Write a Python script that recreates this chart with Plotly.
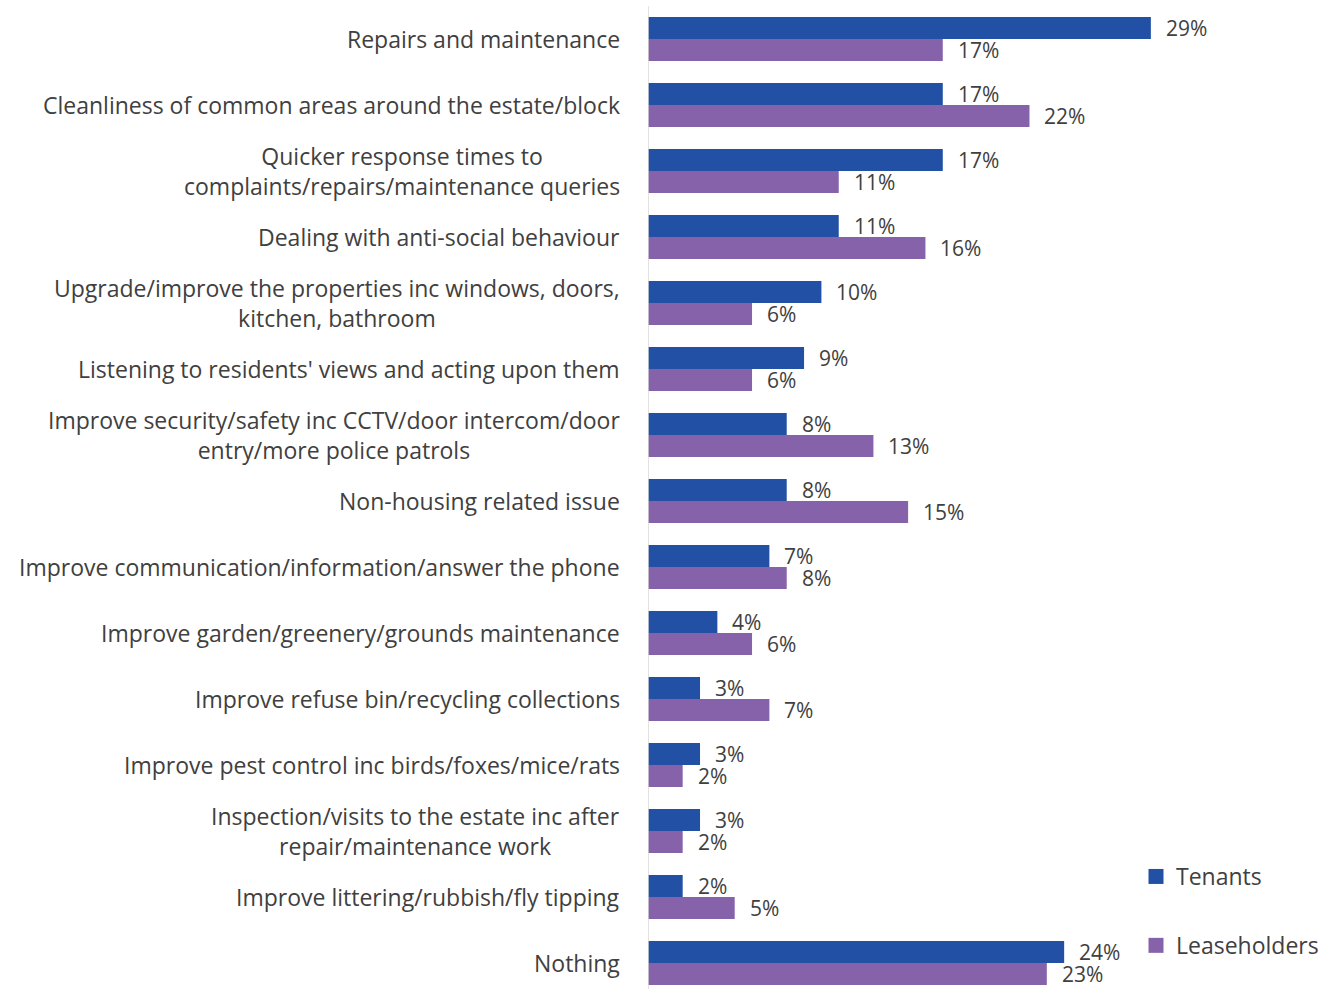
import plotly.graph_objects as go

categories = [
    "Repairs and maintenance",
    "Cleanliness of common areas around the estate/block",
    "Quicker response times to<br>complaints/repairs/maintenance queries",
    "Dealing with anti-social behaviour",
    "Upgrade/improve the properties inc windows, doors,<br>kitchen, bathroom",
    "Listening to residents' views and acting upon them",
    "Improve security/safety inc CCTV/door intercom/door<br>entry/more police patrols",
    "Non-housing related issue",
    "Improve communication/information/answer the phone",
    "Improve garden/greenery/grounds maintenance",
    "Improve refuse bin/recycling collections",
    "Improve pest control inc birds/foxes/mice/rats",
    "Inspection/visits to the estate inc after<br>repair/maintenance work",
    "Improve littering/rubbish/fly tipping",
    "Nothing",
]
tenants = [29, 17, 17, 11, 10, 9, 8, 8, 7, 4, 3, 3, 3, 2, 24]
leaseholders = [17, 22, 11, 16, 6, 6, 13, 15, 8, 6, 7, 2, 2, 5, 23]
series_names = ["Tenants", "Leaseholders"]

C_TEN = "#2150A5"
C_LEA = "#8662AB"
FONT = "Open Sans, sans-serif"
TXT = "#404040"

idx = list(range(len(categories)))

fig = go.Figure()
for name, vals, col, grp in [(series_names[0], tenants, C_TEN, "t"),
                             (series_names[1], leaseholders, C_LEA, "l")]:
    fig.add_trace(go.Bar(y=idx, x=vals, orientation="h", name=name, legendgroup=grp,
                         showlegend=False, marker=dict(color=col, line=dict(width=0)),
                         hoverinfo="skip"))
# legend entries with larger square keys
for name, col, grp in [(series_names[0], C_TEN, "t"), (series_names[1], C_LEA, "l")]:
    fig.add_trace(go.Scatter(x=[None], y=[None], mode="markers", name=name, legendgroup=grp,
                             marker=dict(symbol="square", size=15, color=col),
                             hoverinfo="skip"))

ann = []
for i, (t, l) in enumerate(zip(tenants, leaseholders)):
    ann.append(dict(x=t, y=i, xref="x", yref="y", text=f"{t}%", showarrow=False,
                    xanchor="left", yanchor="middle", xshift=13, yshift=11,
                    font=dict(size=21, color=TXT, family=FONT)))
    ann.append(dict(x=l, y=i, xref="x", yref="y", text=f"{l}%", showarrow=False,
                    xanchor="left", yanchor="middle", xshift=13, yshift=-11,
                    font=dict(size=21, color=TXT, family=FONT)))

for i, c in enumerate(categories):
    ann.append(dict(x=0, y=i, xref="paper", yref="y", text=c, showarrow=False,
                    xanchor="right", yanchor="middle", xshift=-26,
                    align="center", font=dict(size=23, color=TXT, family=FONT)))

fig.update_layout(
    width=1329, height=989,
    margin=dict(l=648, r=129, t=6, b=0, autoexpand=False),
    plot_bgcolor="white", paper_bgcolor="white",
    barmode="group", bargap=1/3, bargroupgap=0,
    showlegend=True,
    legend=dict(x=(1136 - 648) / 552, xref="paper", y=(989 - 855) / 983, yref="paper",
                xanchor="left", yanchor="top",
                font=dict(size=23, color=TXT, family=FONT), tracegroupgap=36,
                itemwidth=30, bgcolor="rgba(0,0,0,0)"),
    annotations=ann,
    font=dict(family=FONT, color=TXT),
    hovermode=False,
)
fig.update_xaxes(range=[0, (1200 - 648) / 17.34], showgrid=False, zeroline=False,
                 showticklabels=False, showline=False, fixedrange=True)
fig.update_yaxes(range=[-0.5 + 983 / 66, -0.5], showgrid=False, zeroline=False,
                 showticklabels=False, showline=False, ticks="", fixedrange=True)
fig.add_shape(type="line", xref="x", yref="paper", x0=0, x1=0, y0=0.0, y1=1.0,
              line=dict(color="#D9D9D9", width=1.5))

post = "document.body.style.margin='0';"
fig.write_html("out.html", post_script=post, config={"displayModeBar": False})
